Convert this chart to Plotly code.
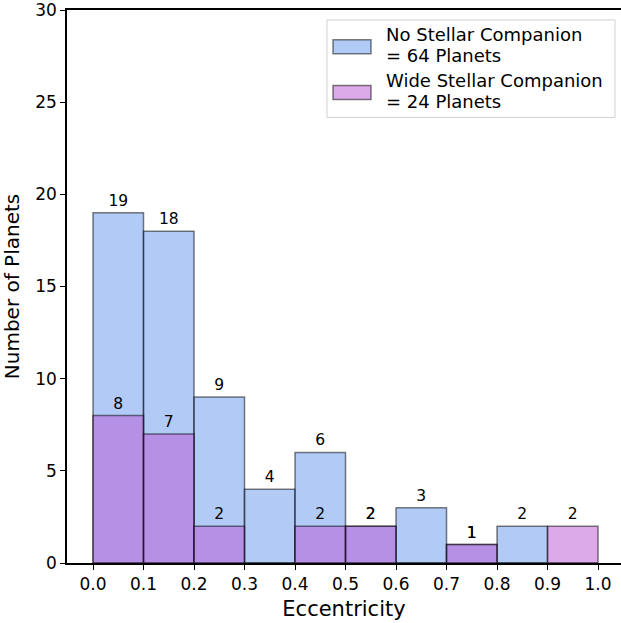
import plotly.graph_objects as go

bin_left = [0.0, 0.1, 0.2, 0.3, 0.4, 0.5, 0.6, 0.7, 0.8, 0.9]
no_companion = [19, 18, 9, 4, 6, 2, 3, 1, 2, 0]
wide_companion = [8, 7, 2, 0, 2, 2, 0, 1, 0, 2]
x_ticks = [0.0, 0.1, 0.2, 0.3, 0.4, 0.5, 0.6, 0.7, 0.8, 0.9, 1.0]
y_ticks = [0, 5, 10, 15, 20, 25, 30]
legend_lines = [["No Stellar Companion", "= 64 Planets"],
                ["Wide Stellar Companion", "= 24 Planets"]]
bin_width = 0.1

blue = "rgba(100,149,237,0.5)"
purple = "rgba(186,85,211,0.5)"
blue_solid = "rgb(177,202,246)"
purple_solid = "rgb(220,170,233)"

centers = [b + bin_width / 2 for b in bin_left]
edge = dict(color="rgba(0,0,0,0.5)", width=1.5)
font = "DejaVu Sans, Verdana, sans-serif"

L, R, T, B = 67, 0, 7, 60
W, H = 621, 623
PW, PH = W - L - R, H - T - B


def px(x):
    return (x - L) / PW


def py(y):
    return (H - B - y) / PH


fig = go.Figure()
fig.add_trace(go.Bar(
    x=centers, y=no_companion, width=bin_width,
    name="No Stellar Companion = 64 Planets", showlegend=False,
    marker=dict(color=blue, line=edge),
    text=[str(v) if v > 0 else "" for v in no_companion],
    textposition="outside", constraintext="none",
    textfont=dict(size=15.5, color="black", family=font),
    cliponaxis=False,
))
fig.add_trace(go.Bar(
    x=centers, y=wide_companion, width=bin_width,
    name="Wide Stellar Companion = 24 Planets", showlegend=False,
    marker=dict(color=purple, line=edge),
    text=[str(v) if v > 0 else "" for v in wide_companion],
    textposition="outside", constraintext="none",
    textfont=dict(size=15.5, color="black", family=font),
    cliponaxis=False,
))

shapes = [dict(type="rect", xref="paper", yref="paper",
               x0=px(327), x1=px(615), y0=py(115), y1=py(17),
               fillcolor="white", line=dict(color="#d0d0d0", width=1),
               layer="above")]
annotations = []
for i, (lines, col) in enumerate(zip(legend_lines, [blue_solid, purple_solid])):
    yc = 44 + i * 46
    shapes.append(dict(type="rect", xref="paper", yref="paper",
                       x0=px(333), x1=px(371), y0=py(yc + 7), y1=py(yc - 7),
                       fillcolor=col, line=dict(color="rgba(0,0,0,0.5)", width=1.5),
                       layer="above"))
    for j, t in enumerate(lines):
        annotations.append(dict(xref="paper", yref="paper", x=px(384),
                                y=py(yc - 12 + j * 21), text=t, showarrow=False,
                                xanchor="left", yanchor="middle",
                                font=dict(size=18, color="black", family=font)))

fig.update_layout(
    width=W, height=H,
    margin=dict(l=L, r=R, t=T, b=B),
    barmode="overlay",
    plot_bgcolor="white", paper_bgcolor="white",
    font=dict(family=font, size=17, color="black"),
    showlegend=False,
    shapes=shapes, annotations=annotations,
    xaxis=dict(
        range=[-0.0515, 1.0455], tickvals=x_ticks,
        ticktext=[f"{v:.1f}" for v in x_ticks],
        showline=True, linecolor="black", linewidth=1.5, mirror=True,
        ticks="outside", ticklen=5, tickcolor="black",
        showgrid=False, zeroline=False,
        title=dict(text="Eccentricity", font=dict(size=21), standoff=8),
        tickfont=dict(size=17), ticklabeloverflow="allow",
    ),
    yaxis=dict(
        range=[0, 30], tickvals=y_ticks,
        showline=True, linecolor="black", linewidth=1.5, mirror=False,
        ticks="outside", ticklen=5, tickcolor="black",
        showgrid=False, zeroline=False,
        title=dict(text="Number of Planets", font=dict(size=20), standoff=10),
        tickfont=dict(size=17), ticklabeloverflow="allow",
    ),
)

fig.write_html("out.html")
